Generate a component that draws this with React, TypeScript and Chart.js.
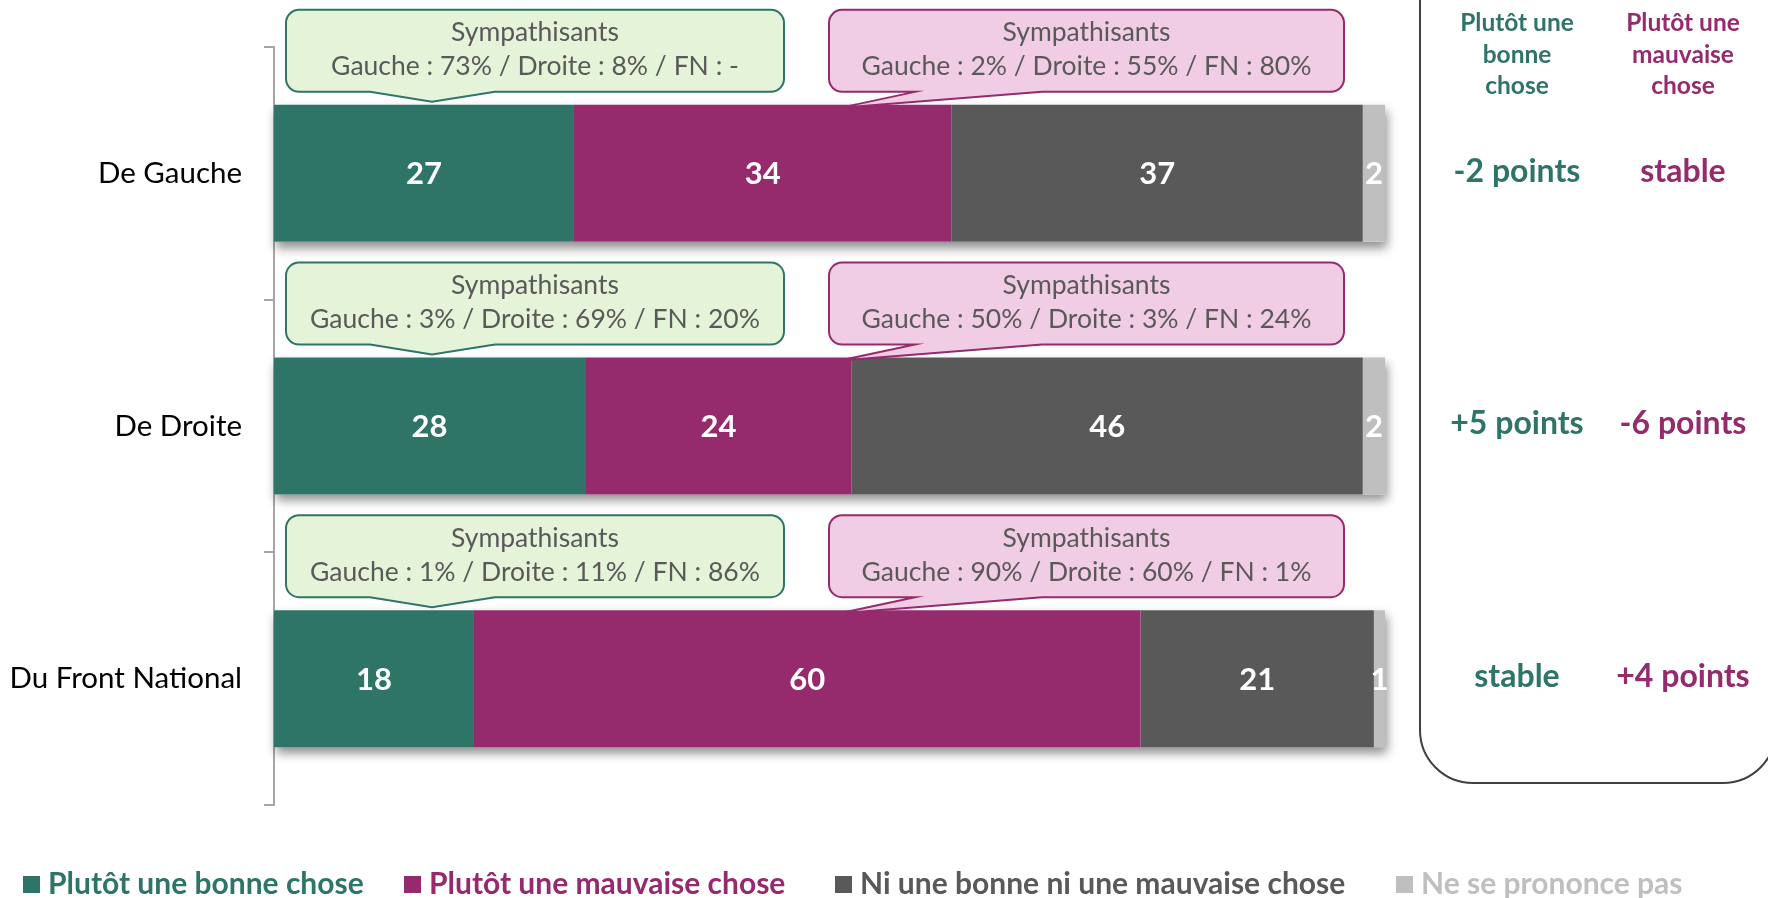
import React, { useEffect, useRef } from 'react';
import { Chart, registerables } from 'chart.js';

Chart.register(...registerables);

// ---------- DATA ----------
const categories = ['De Gauche', 'De Droite', 'Du Front National'];
const seriesNames = [
  'Plutôt une bonne chose',
  'Plutôt une mauvaise chose',
  'Ni une bonne ni une mauvaise chose',
  'Ne se prononce pas',
];
const goodValues = [27, 28, 18];
const badValues = [34, 24, 60];
const neitherValues = [37, 46, 21];
const noAnswerValues = [2, 2, 1];

const calloutTitle = 'Sympathisants';
const goodCallouts = [
  'Gauche : 73% / Droite : 8% / FN : -',
  'Gauche : 3% / Droite : 69% / FN : 20%',
  'Gauche : 1% / Droite : 11% / FN : 86%',
];
const badCallouts = [
  'Gauche : 2% / Droite : 55% / FN : 80%',
  'Gauche : 50% / Droite : 3% / FN : 24%',
  'Gauche : 90% / Droite : 60% / FN : 1%',
];
const goodHeader = ['Plutôt une', 'bonne', 'chose'];
const badHeader = ['Plutôt une', 'mauvaise', 'chose'];
const goodChanges = ['-2 points', '+5 points', 'stable'];
const badChanges = ['stable', '-6 points', '+4 points'];

// ---------- STYLE ----------
const COLORS = ['#2E7568', '#952A6D', '#595959', '#BFBFBF'];
const FONT = 'Lato, "Open Sans", sans-serif';
const W = 1768;
const H = 898;

function calloutPath(
  ctx: CanvasRenderingContext2D,
  x0: number, y0: number, x1: number, y1: number, r: number,
  baseL: number, baseR: number, tipX: number, tipY: number,
) {
  ctx.beginPath();
  ctx.moveTo(x0 + r, y0);
  ctx.lineTo(x1 - r, y0);
  ctx.arcTo(x1, y0, x1, y0 + r, r);
  ctx.lineTo(x1, y1 - r);
  ctx.arcTo(x1, y1, x1 - r, y1, r);
  ctx.lineTo(baseR, y1);
  ctx.lineTo(tipX, tipY);
  ctx.lineTo(baseL, y1);
  ctx.lineTo(x0 + r, y1);
  ctx.arcTo(x0, y1, x0, y1 - r, r);
  ctx.lineTo(x0, y0 + r);
  ctx.arcTo(x0, y0, x0 + r, y0, r);
  ctx.closePath();
}

function roundRectPath(ctx: CanvasRenderingContext2D, x0: number, y0: number, x1: number, y1: number, r: number) {
  ctx.beginPath();
  ctx.moveTo(x0 + r, y0);
  ctx.lineTo(x1 - r, y0);
  ctx.arcTo(x1, y0, x1, y0 + r, r);
  ctx.lineTo(x1, y1 - r);
  ctx.arcTo(x1, y1, x1 - r, y1, r);
  ctx.lineTo(x0 + r, y1);
  ctx.arcTo(x0, y1, x0, y1 - r, r);
  ctx.lineTo(x0, y0 + r);
  ctx.arcTo(x0, y0, x0 + r, y0, r);
  ctx.closePath();
}

function rowGeometry(chart: any, i: number) {
  const first = chart.getDatasetMeta(0).data[i].getProps(['x', 'y', 'base', 'height'], true);
  const last = chart.getDatasetMeta(chart.data.datasets.length - 1).data[i].getProps(['x', 'y', 'base', 'height'], true);
  return {
    left: Math.min(first.base, first.x),
    right: Math.max(last.x, last.base),
    top: first.y - first.height / 2,
    height: first.height,
    cy: first.y,
  };
}

const shadowPlugin = {
  id: 'barShadow',
  beforeDatasetsDraw(chart: any) {
    const ctx = chart.ctx as CanvasRenderingContext2D;
    categories.forEach((_, i) => {
      const g = rowGeometry(chart, i);
      ctx.save();
      ctx.shadowColor = 'rgba(0,0,0,0.45)';
      ctx.shadowBlur = 10;
      ctx.shadowOffsetY = 6;
      ctx.shadowOffsetX = 2;
      ctx.fillStyle = '#ffffff';
      ctx.fillRect(g.left, g.top, g.right - g.left, g.height);
      ctx.restore();
    });
  },
};

const annotationPlugin = {
  id: 'annotations',
  afterDatasetsDraw(chart: any) {
    const ctx = chart.ctx as CanvasRenderingContext2D;
    const area = chart.chartArea;

    // value labels inside segments
    ctx.save();
    ctx.font = `bold 31px ${FONT}`;
    ctx.fillStyle = '#ffffff';
    ctx.textAlign = 'center';
    ctx.textBaseline = 'middle';
    chart.data.datasets.forEach((ds: any, d: number) => {
      const meta = chart.getDatasetMeta(d);
      meta.data.forEach((el: any, i: number) => {
        const p = el.getProps(['x', 'y', 'base'], true);
        ctx.fillText(String(ds.data[i]), (p.x + p.base) / 2, p.y + 1);
      });
    });
    ctx.restore();

    // callouts
    const L = area.left;
    categories.forEach((_, i) => {
      const g = rowGeometry(chart, i);
      const boxTop = g.top - 95;
      const boxBottom = boxTop + 82;
      const boxes = [
        { x0: L + 12, x1: L + 510, fill: '#E5F4D9', stroke: COLORS[0], bl: L + 96, br: L + 221, tx: L + 158, ty: g.top - 3, text: goodCallouts[i] },
        { x0: L + 555, x1: L + 1070, fill: '#F1CDE5', stroke: COLORS[1], bl: L + 641, br: L + 768, tx: L + 566, ty: g.top + 3, text: badCallouts[i] },
      ];
      boxes.forEach((b) => {
        ctx.save();
        calloutPath(ctx, b.x0, boxTop, b.x1, boxBottom, 13, b.bl, b.br, b.tx, b.ty);
        ctx.fillStyle = b.fill;
        ctx.fill();
        ctx.lineWidth = 2;
        ctx.strokeStyle = b.stroke;
        ctx.stroke();
        ctx.fillStyle = '#595959';
        ctx.font = `26.5px ${FONT}`;
        ctx.textAlign = 'center';
        ctx.textBaseline = 'middle';
        const cx = (b.x0 + b.x1) / 2;
        ctx.fillText(calloutTitle, cx, boxTop + 23);
        ctx.fillText(b.text, cx, boxTop + 57);
        ctx.restore();
      });
    });
  },
  afterDraw(chart: any) {
    const ctx = chart.ctx as CanvasRenderingContext2D;

    // right panel
    ctx.save();
    roundRectPath(ctx, 1420, -60, 1776, 783, 53);
    ctx.lineWidth = 2;
    ctx.strokeStyle = '#404040';
    ctx.stroke();
    ctx.textAlign = 'center';
    ctx.textBaseline = 'middle';
    ctx.font = `bold 24.5px ${FONT}`;
    const colX = [1517, 1683];
    const lineY = [23, 55, 86];
    [goodHeader, badHeader].forEach((hdr, c) => {
      ctx.fillStyle = COLORS[c];
      hdr.forEach((t, k) => ctx.fillText(t, colX[c], lineY[k]));
    });
    ctx.font = `bold 32px ${FONT}`;
    categories.forEach((_, i) => {
      const g = rowGeometry(chart, i);
      ctx.fillStyle = COLORS[0];
      ctx.fillText(goodChanges[i], colX[0], g.cy - 2);
      ctx.fillStyle = COLORS[1];
      ctx.fillText(badChanges[i], colX[1], g.cy - 2);
    });
    ctx.restore();

    // legend
    ctx.save();
    const legendX = [23, 404, 835, 1396];
    ctx.font = `bold 30px ${FONT}`;
    ctx.textAlign = 'left';
    ctx.textBaseline = 'alphabetic';
    seriesNames.forEach((name, k) => {
      ctx.fillStyle = COLORS[k];
      ctx.fillRect(legendX[k], 876, 17, 17);
      ctx.fillText(name, legendX[k] + 25, 894);
    });
    ctx.restore();
  },
};

export default function App() {
  const canvasRef = useRef<HTMLCanvasElement | null>(null);

  useEffect(() => {
    document.body.style.margin = '0';
    const canvas = canvasRef.current;
    if (!canvas) return;
    const values = [goodValues, badValues, neitherValues, noAnswerValues];
    const chart = new Chart(canvas, {
      type: 'bar',
      data: {
        labels: categories,
        datasets: seriesNames.map((name, k) => ({
          label: name,
          data: values[k],
          backgroundColor: COLORS[k],
          borderWidth: 0,
          barPercentage: 0.542,
          categoryPercentage: 1,
        })),
      },
      options: {
        indexAxis: 'y',
        responsive: false,
        animation: false,
        devicePixelRatio: 1,
        layout: { padding: { left: 0, top: 47, right: W - 1385, bottom: H - 805 } },
        plugins: {
          legend: { display: false },
          tooltip: { enabled: false },
        },
        scales: {
          x: { stacked: true, min: 0, max: 100, display: false },
          y: {
            stacked: true,
            afterFit: (scale: any) => { scale.width = 274; },
            border: { display: true, color: '#A6A6A6', width: 2 },
            grid: { drawOnChartArea: false, drawTicks: true, tickLength: 10, color: '#A6A6A6', lineWidth: 2, offset: true },
            ticks: { color: '#000000', font: { family: FONT, size: 29.5 }, padding: 22 },
          },
        },
      },
      plugins: [shadowPlugin, annotationPlugin],
    } as any);

    let alive = true;
    if ((document as any).fonts) {
      Promise.all([
        document.fonts.load(`27px Lato`),
        document.fonts.load(`bold 30px Lato`),
      ]).then(() => { if (alive) chart.update(); }).catch(() => {});
    }
    return () => {
      alive = false;
      chart.destroy();
    };
  }, []);

  return (
    <div style={{ position: 'fixed', left: 0, top: 0, width: W, height: H, background: '#ffffff' }}>
      <canvas ref={canvasRef} width={W} height={H} style={{ width: W, height: H, display: 'block' }} />
    </div>
  );
}
